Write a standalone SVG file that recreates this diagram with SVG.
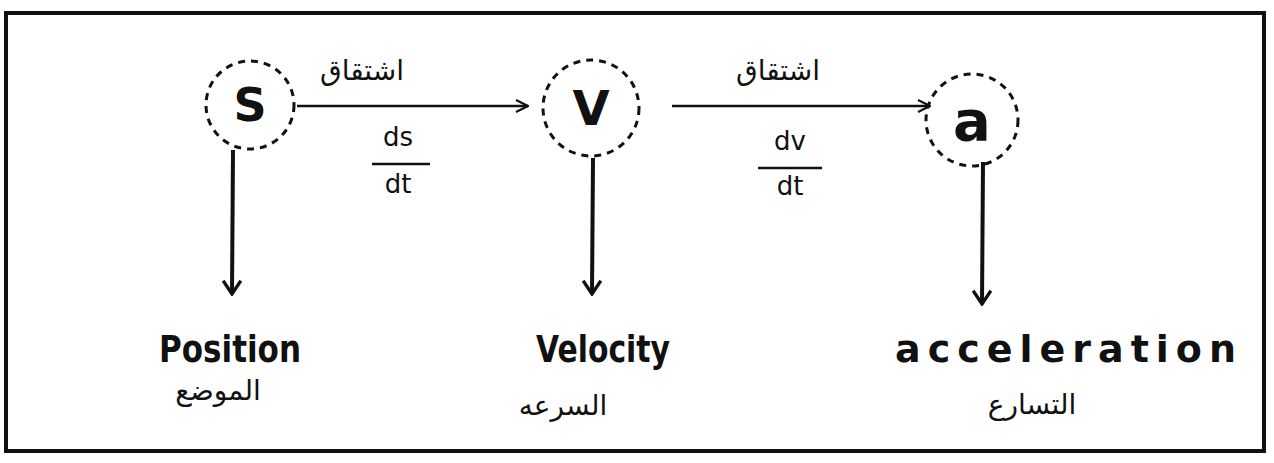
<svg xmlns="http://www.w3.org/2000/svg" width="1274" height="463" viewBox="0 0 1274 463">
<defs>
<style>
.frame{fill:none;stroke:#111;stroke-width:4}
.node{fill:none;stroke:#111;stroke-width:3;stroke-dasharray:7 6}
.conn{stroke:#111;stroke-width:2.5;fill:none}
.vconn{stroke:#111;stroke-width:4;fill:none}
.sym{font-family:"DejaVu Sans",sans-serif;font-weight:bold;fill:#111;text-anchor:middle}
.lbl{font-family:"DejaVu Sans",sans-serif;fill:#111;text-anchor:middle;font-size:38px;font-weight:bold}
.ar{font-family:"DejaVu Sans","Noto Sans",sans-serif;fill:#111;text-anchor:middle;font-size:28px}
.frac{font-family:"DejaVu Sans",sans-serif;fill:#111;text-anchor:middle;font-size:26px}
</style>
<marker id="ah" viewBox="0 0 14 14" refX="13" refY="7" markerWidth="14" markerHeight="14" markerUnits="userSpaceOnUse" orient="auto">
<path d="M1,1 L13,7 L1,13" fill="none" stroke="#111" stroke-width="2.2"/>
</marker>
<marker id="vh" viewBox="0 0 18 18" refX="9" refY="17" markerWidth="20" markerHeight="22" markerUnits="userSpaceOnUse" orient="0">
<path d="M1,5 L9,17 L17,5" fill="none" stroke="#111" stroke-width="3"/>
</marker>
</defs>
<rect width="1274" height="463" fill="#fff"/>
<rect class="frame" x="6" y="13" width="1258" height="438"/>
<g id="connectors">
<line class="conn" x1="297" y1="106" x2="528" y2="106" marker-end="url(#ah)"/>
<line class="conn" x1="672" y1="106" x2="930" y2="106" marker-end="url(#ah)"/>
<line class="vconn" x1="233" y1="150" x2="232" y2="294" marker-end="url(#vh)"/>
<line class="vconn" x1="593" y1="158" x2="592" y2="294" marker-end="url(#vh)"/>
<line class="vconn" x1="983" y1="162" x2="982" y2="304" marker-end="url(#vh)"/>
<text class="ar" x="362" y="80">اشتقاق</text>
<text class="ar" x="778" y="80">اشتقاق</text>
<text class="frac" x="398" y="146">ds</text>
<line x1="372" y1="164" x2="430" y2="164" stroke="#111" stroke-width="2.5"/>
<text class="frac" x="398" y="193">dt</text>
<text class="frac" x="790" y="150">dv</text>
<line x1="758" y1="168" x2="822" y2="168" stroke="#111" stroke-width="2.5"/>
<text class="frac" x="790" y="195">dt</text>
</g>
<g id="node-s">
<circle class="node" cx="250" cy="105" r="44"/>
<text class="sym" x="250" y="121" font-size="46">S</text>
</g>
<g id="node-v">
<circle class="node" cx="591" cy="108" r="48"/>
<text class="sym" x="591" y="125" font-size="48">V</text>
</g>
<g id="node-a">
<circle class="node" cx="972" cy="120" r="46"/>
<text class="sym" x="972" y="140" font-size="56">a</text>
</g>
<g id="label-position">
<text class="lbl" x="230" y="362" textLength="142" lengthAdjust="spacingAndGlyphs">Position</text>
<text class="ar" x="218" y="400" font-size="30">الموضع</text>
</g>
<g id="label-velocity">
<text class="lbl" x="603" y="362" textLength="134" lengthAdjust="spacingAndGlyphs">Velocity</text>
<text class="ar" x="563" y="415" font-size="30">السرعه</text>
</g>
<g id="label-acceleration">
<text class="lbl" x="1069" y="362" font-size="40" letter-spacing="7">acceleration</text>
<text class="ar" x="1032" y="414" font-size="36">التسارع</text>
</g>
</svg>
